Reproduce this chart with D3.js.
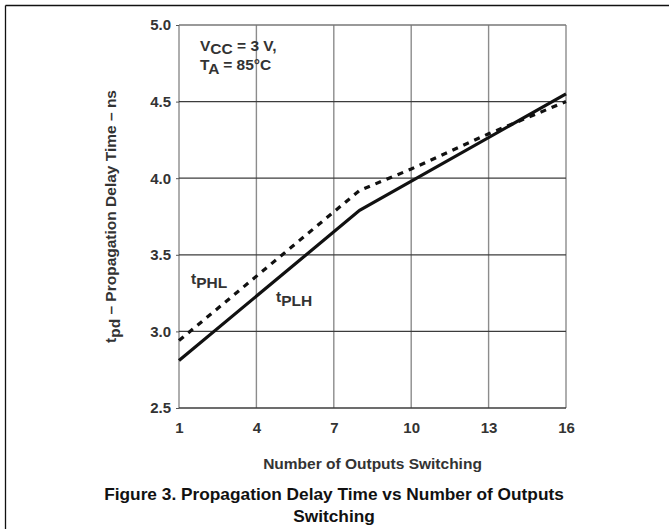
<!DOCTYPE html>
<html><head><meta charset="utf-8">
<script src="https://cdn.jsdelivr.net/npm/d3@7"></script>
<style>
html,body{margin:0;padding:0;background:#fff;}
svg{display:block;font-family:"Liberation Sans",Arial,sans-serif;}
</style></head>
<body>
<svg id="chart" width="669" height="529"></svg>
<script>
// Data
const xTicks = [1, 4, 7, 10, 13, 16];
const yTicks = [2.5, 3.0, 3.5, 4.0, 4.5, 5.0];
const plhX = [1, 8, 16];
const plhY = [2.81, 3.79, 4.55];
const phlX = [1, 8, 10, 13, 16];
const phlY = [2.94, 3.92, 4.06, 4.29, 4.5];

const svg = d3.select("#chart");
const L = 179, R = 566, T = 25, B = 408;
const x = d3.scaleLinear().domain([1, 16]).range([L, R]);
const y = d3.scaleLinear().domain([2.5, 5.0]).range([B, T]);
const FONT = "'Liberation Sans',Arial,sans-serif";

// outer frame (top + left)
svg.append("line").attr("x1", 5.5).attr("x2", 669).attr("y1", 5.5).attr("y2", 5.5)
  .attr("stroke", "#111").attr("stroke-width", 1.3);
svg.append("line").attr("x1", 5.5).attr("x2", 5.5).attr("y1", 5.5).attr("y2", 529)
  .attr("stroke", "#111").attr("stroke-width", 1.3);

// vertical grid
svg.append("g").selectAll("line").data(xTicks).join("line")
  .attr("x1", d => x(d)).attr("x2", d => x(d)).attr("y1", T).attr("y2", B)
  .attr("stroke", "#8c8c8c").attr("stroke-width", 1.4);
// horizontal grid
svg.append("g").selectAll("line").data(yTicks).join("line")
  .attr("x1", L).attr("x2", R).attr("y1", d => y(d)).attr("y2", d => y(d))
  .attr("stroke", d => (d === 5.0 ? "#777" : "#3c3c3c")).attr("stroke-width", 1.3);

// y axis ticks + labels
const yAxis = d3.axisLeft(y).tickValues(yTicks).tickSize(3).tickPadding(5).tickFormat(d3.format(".1f"));
const gy = svg.append("g").attr("transform", `translate(${L},0)`).call(yAxis);
gy.select(".domain").remove();
gy.selectAll("line").attr("stroke", "#555");
gy.selectAll("text").attr("font-size", 15).attr("font-weight", "bold").attr("fill", "#333")
  .attr("font-family", FONT);

// x axis labels
const xAxis = d3.axisBottom(x).tickValues(xTicks).tickSize(0).tickPadding(14).tickFormat(d3.format("d"));
const gx = svg.append("g").attr("transform", `translate(0,${B})`).call(xAxis);
gx.select(".domain").remove();
gx.selectAll("text").attr("font-size", 15).attr("font-weight", "bold").attr("fill", "#333")
  .attr("font-family", FONT);

// series lines
const line = d3.line().x(d => x(d[0])).y(d => y(d[1]));
const plh = plhX.map((v, i) => [v, plhY[i]]);
const phl = phlX.map((v, i) => [v, phlY[i]]);
svg.append("path").attr("d", line(phl)).attr("fill", "none").attr("stroke", "#111")
  .attr("stroke-width", 3.2).attr("stroke-dasharray", "6,6");
svg.append("path").attr("d", line(plh)).attr("fill", "none").attr("stroke", "#111")
  .attr("stroke-width", 3.2);

// series labels
function subLabel(px, py, main, sub, size) {
  const t = svg.append("text").attr("x", px).attr("y", py).attr("font-size", size)
    .attr("font-weight", "bold").attr("fill", "#333");
  t.append("tspan").text(main);
  t.append("tspan").attr("dy", 4).text(sub);
  return t;
}
subLabel(191, 284, "t", "PHL", 15.5);
subLabel(276, 302, "t", "PLH", 15.5);

// conditions annotation
const a1 = svg.append("text").attr("x", 200).attr("y", 51).attr("font-size", 15.5)
  .attr("font-weight", "bold").attr("fill", "#333");
a1.append("tspan").text("V");
a1.append("tspan").attr("dy", 3).text("CC");
a1.append("tspan").attr("dy", -3).text(" = 3 V,");
const a2 = svg.append("text").attr("x", 200).attr("y", 70).attr("font-size", 15.5)
  .attr("font-weight", "bold").attr("fill", "#333");
a2.append("tspan").text("T");
a2.append("tspan").attr("dy", 4).text("A");
a2.append("tspan").attr("dy", -4).text(" = 85°C");

// y axis title
const yt = svg.append("text").attr("transform", `translate(116,${(T + B) / 2}) rotate(-90)`)
  .attr("text-anchor", "middle").attr("font-size", 15.5).attr("font-weight", "bold").attr("fill", "#333");
yt.append("tspan").text("t");
yt.append("tspan").attr("dy", 4).text("pd");
yt.append("tspan").attr("dy", -4).text(" – Propagation Delay Time – ns");

// x axis title
svg.append("text").attr("x", (L + R) / 2).attr("y", 469).attr("text-anchor", "middle")
  .attr("font-size", 15.5).attr("font-weight", "bold").attr("fill", "#333")
  .text("Number of Outputs Switching");

// figure caption
svg.append("text").attr("x", 334).attr("y", 500).attr("text-anchor", "middle")
  .attr("font-size", 17.3).attr("font-weight", "bold").attr("fill", "#111")
  .text("Figure 3. Propagation Delay Time vs Number of Outputs");
svg.append("text").attr("x", 334).attr("y", 522).attr("text-anchor", "middle")
  .attr("font-size", 17.3).attr("font-weight", "bold").attr("fill", "#111")
  .text("Switching");
</script>
</body></html>
